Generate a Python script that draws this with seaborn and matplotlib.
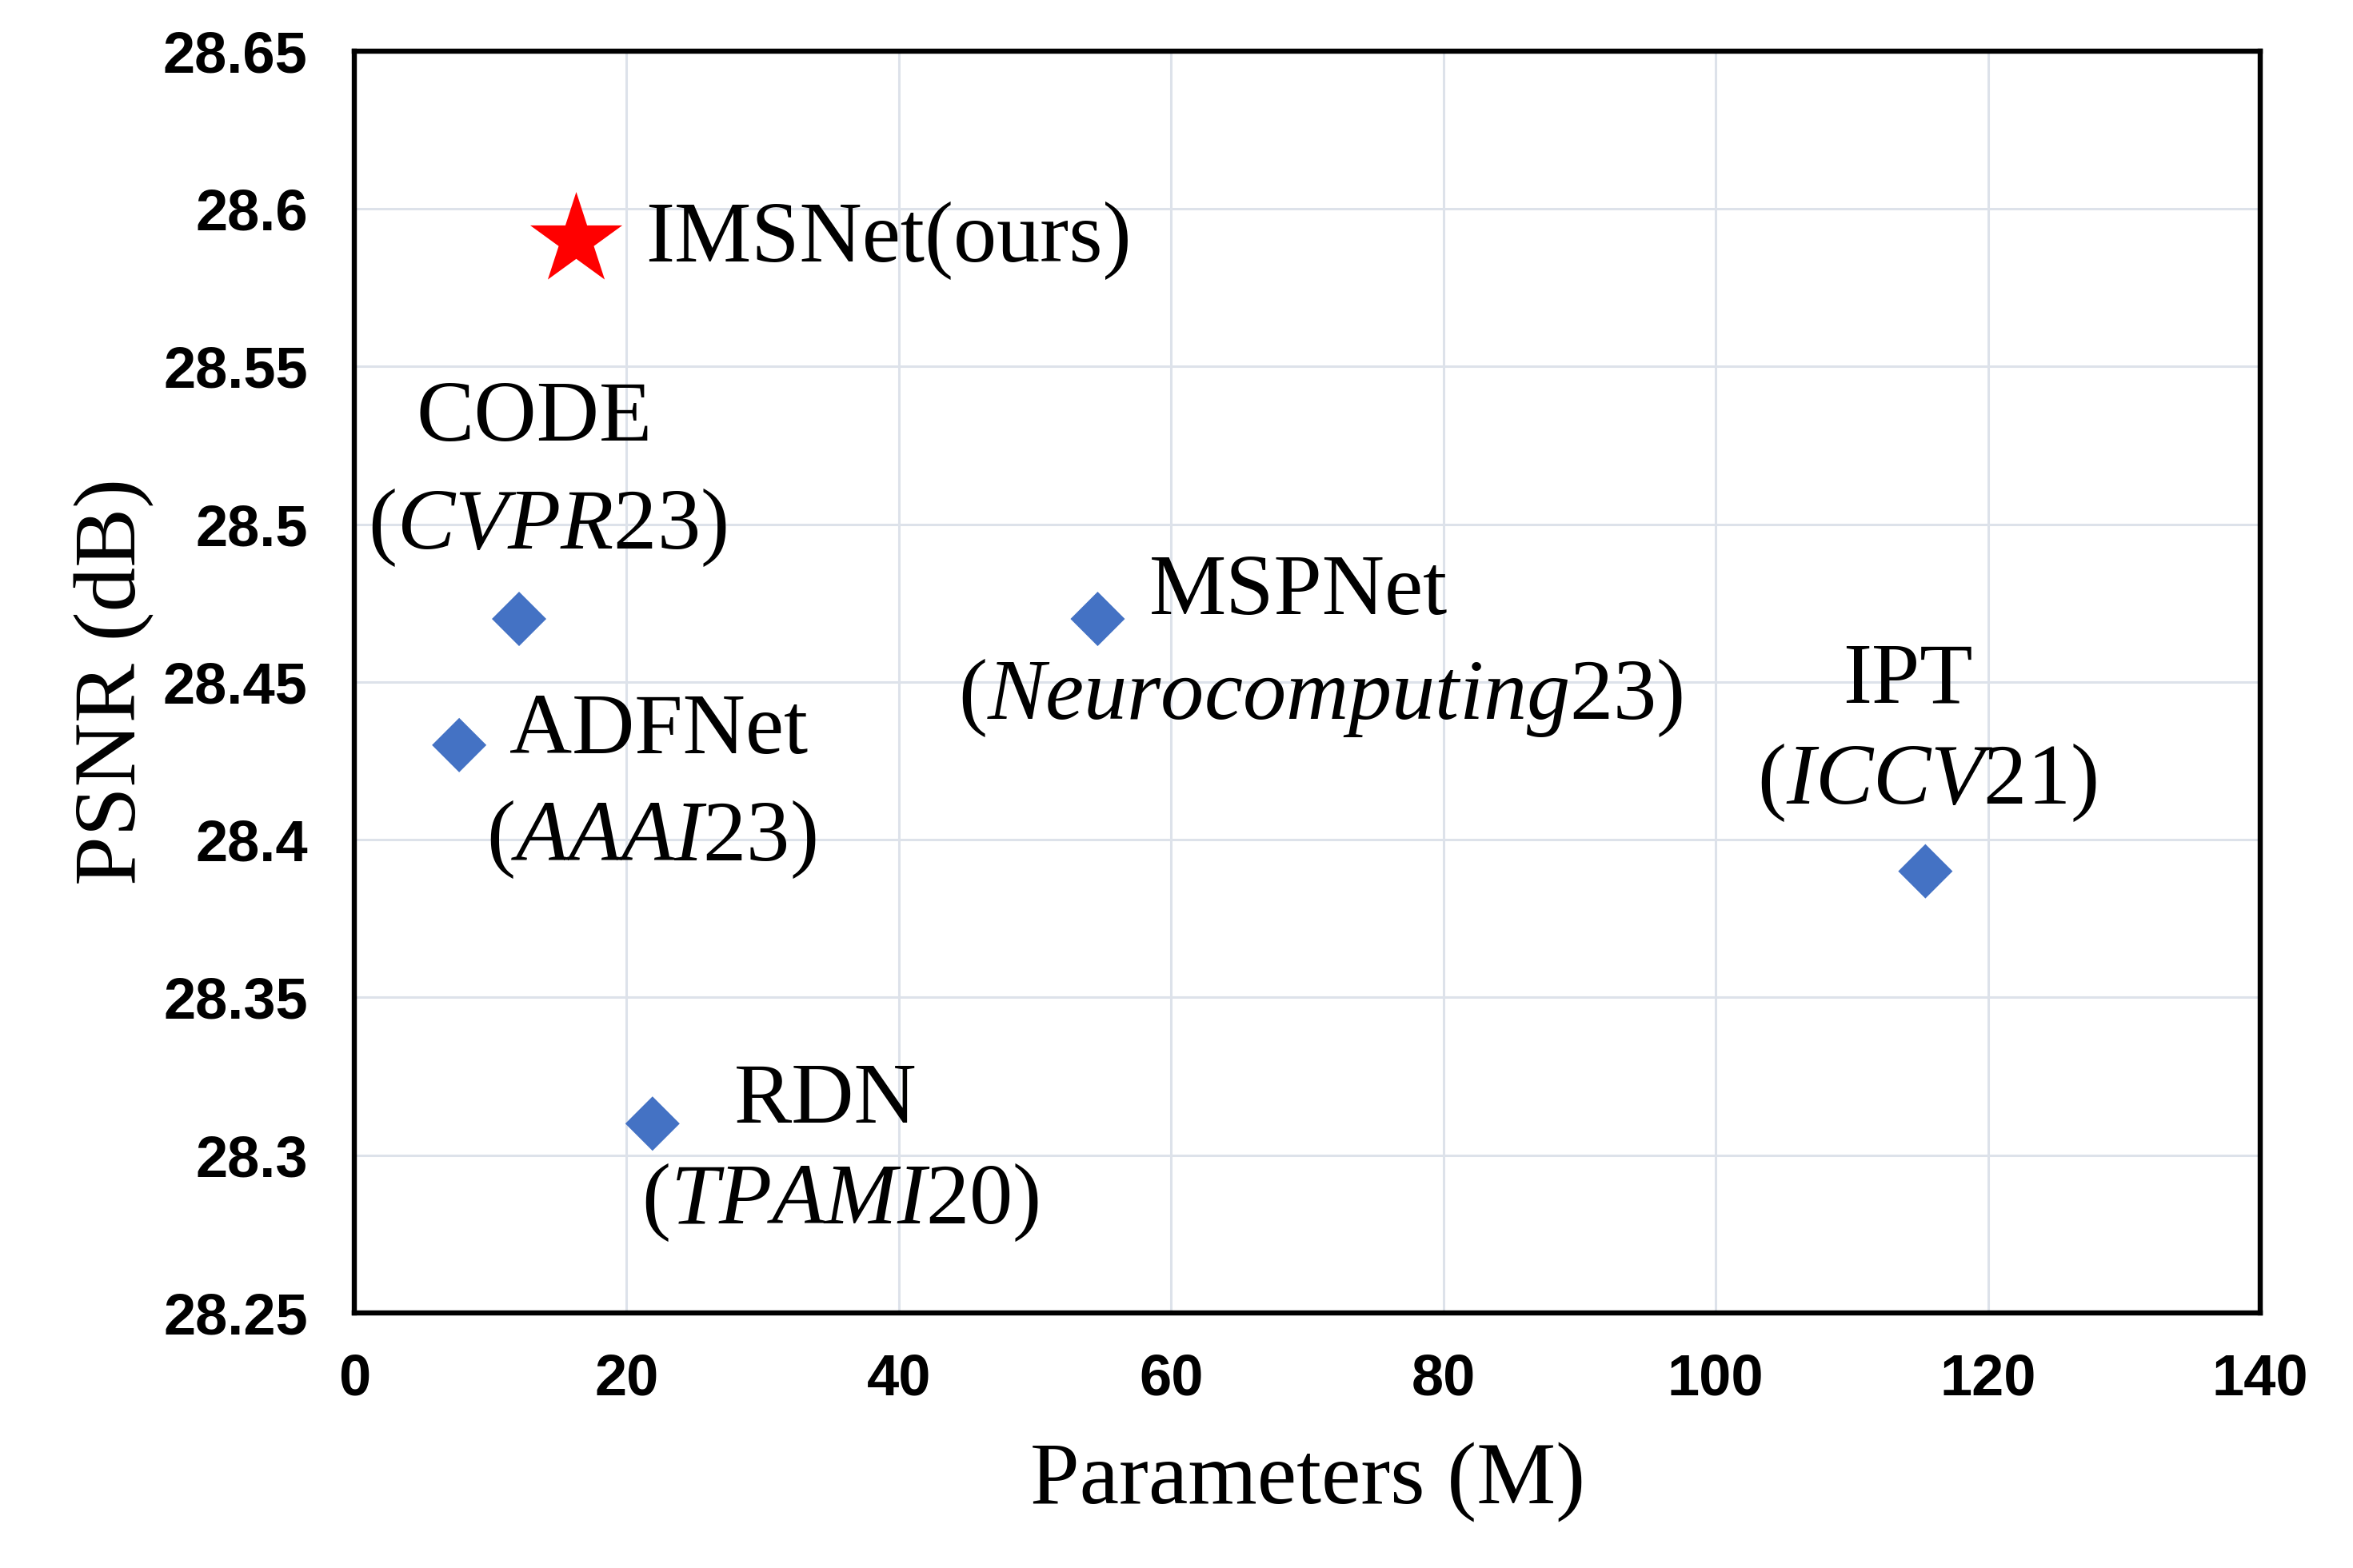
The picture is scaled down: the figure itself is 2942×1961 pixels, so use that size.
import matplotlib
matplotlib.use("Agg")
import matplotlib.pyplot as plt
import seaborn as sns
import pandas as pd

# data
models = ["IMSNet(ours)", "CODE", "ADFNet", "RDN", "MSPNet", "IPT"]
params_m = [16.3, 12.1, 7.7, 21.9, 54.6, 115.4]
psnr_db = [28.59, 28.47, 28.43, 28.31, 28.47, 28.39]
is_ours = [True, False, False, False, False, False]

x_ticks = [0, 20, 40, 60, 80, 100, 120, 140]
y_ticks = [28.25, 28.3, 28.35, 28.4, 28.45, 28.5, 28.55, 28.6, 28.65]

# annotation lines: (text, x, y, ha)
annotations = [
    ("IMSNet(ours)", 21.4, 28.590, "left"),
    ("CODE", 13.2, 28.533, "center"),
    (r"($\mathit{CVPR}$23)", 14.2, 28.499, "center"),
    ("ADFNet", 11.4, 28.434, "left"),
    (r"($\mathit{AAAI}$23)", 21.8, 28.400, "center"),
    ("MSPNet", 58.4, 28.478, "left"),
    (r"($\mathit{Neurocomputing}$23)", 71.0, 28.445, "center"),
    ("IPT", 114.1, 28.450, "center"),
    (r"($\mathit{ICCV}$21)", 115.5, 28.418, "center"),
    ("RDN", 27.9, 28.317, "left"),
    (r"($\mathit{TPAMI}$20)", 35.7, 28.285, "center"),
]

df = pd.DataFrame({"model": models, "params": params_m, "psnr": psnr_db, "ours": is_ours})

sns.set_style("white")
plt.rcParams["mathtext.fontset"] = "custom"
plt.rcParams["mathtext.rm"] = "Liberation Serif"
plt.rcParams["mathtext.it"] = "Liberation Serif:italic"
plt.rcParams["text.color"] = "black"
plt.rcParams["axes.labelcolor"] = "black"
plt.rcParams["xtick.color"] = "black"
plt.rcParams["ytick.color"] = "black"

fig, ax = plt.subplots(figsize=(14.71, 9.805), dpi=200)
fig.subplots_adjust(left=0.1506, right=0.9606, top=0.9674, bottom=0.1627)

sns.scatterplot(data=df[~df["ours"]], x="params", y="psnr", marker="D", s=300,
                color="#4472C4", edgecolor="none", ax=ax, zorder=3)
sns.scatterplot(data=df[df["ours"]], x="params", y="psnr", marker="*", s=1900,
                color="#FF0000", edgecolor="none", ax=ax, zorder=3)

for txt, x, y, ha in annotations:
    ax.text(x, y, txt, ha=ha, va="center", fontsize=39,
            family="Liberation Serif", color="black", zorder=4)

ax.set_xlim(0, 140)
ax.set_ylim(28.25, 28.65)
ax.set_xticks(x_ticks)
ax.set_yticks(y_ticks)
ax.set_xticklabels([f"{v:g}" for v in x_ticks])
ax.set_yticklabels([f"{round(v, 2):g}" for v in y_ticks])
for lab in ax.get_xticklabels() + ax.get_yticklabels():
    lab.set_family("Liberation Sans")
    lab.set_fontweight("bold")
    lab.set_fontsize(26)
    lab.set_color("black")
ax.tick_params(axis="y", length=0, pad=21)
ax.tick_params(axis="x", length=0, pad=18)

ax.grid(True, color="#DDE2EA", linewidth=1.1)
ax.set_axisbelow(True)
for sp in ax.spines.values():
    sp.set_visible(True)
    sp.set_color("black")
    sp.set_linewidth(2.3)

ax.set_xlabel("Parameters (M)", family="Liberation Serif", fontsize=40,
              labelpad=16, color="black")
ax.set_ylabel("PSNR (dB)", family="Liberation Serif", fontsize=40,
              labelpad=4, color="black")

fig.savefig("out.png", dpi=200)
plt.close(fig)
